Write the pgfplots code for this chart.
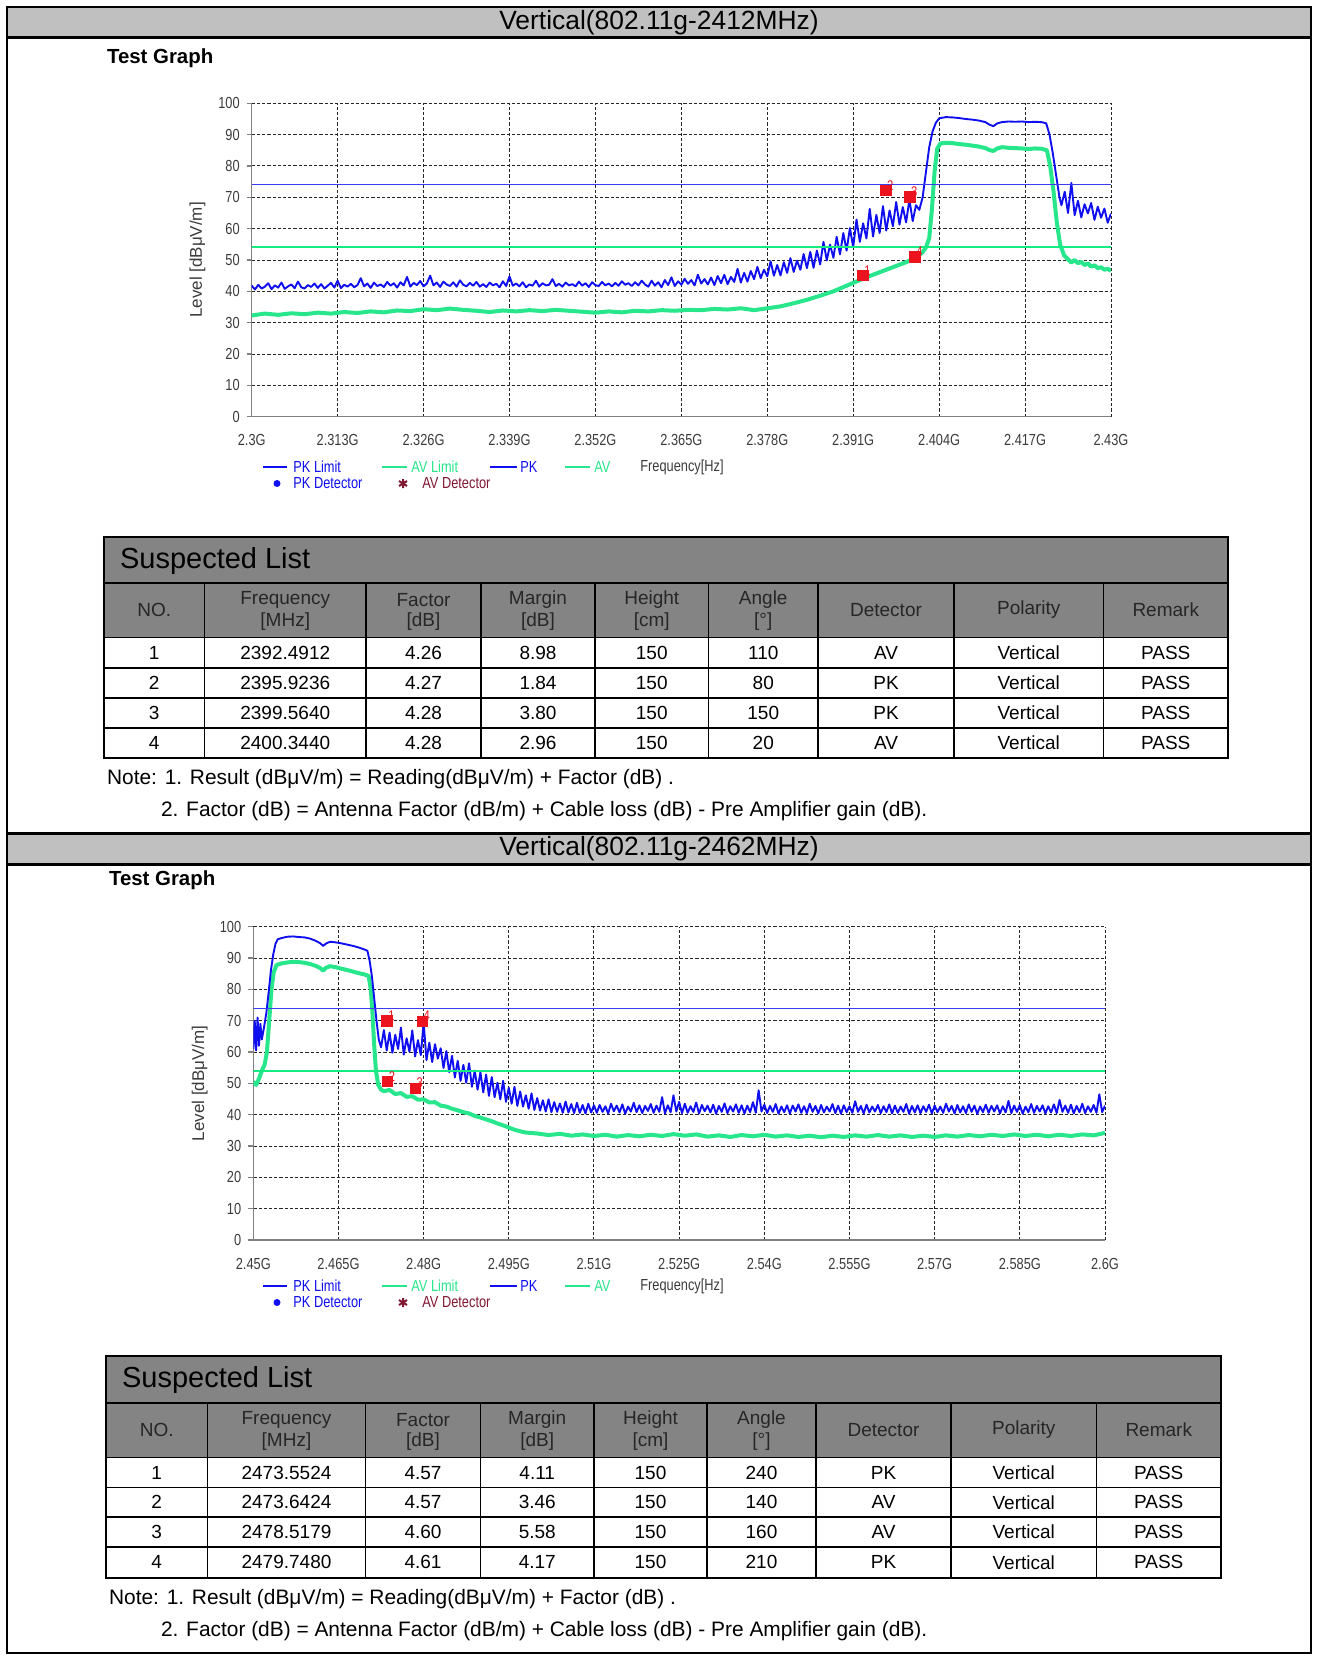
\documentclass[border=0pt]{standalone}
\usepackage{fontspec}
\setmainfont{Liberation Sans}
\newfontfamily\chartfont[FakeStretch=0.8]{Liberation Sans}
\usepackage{pgfplots}
\pgfplotsset{compat=1.18}

\definecolor{pkblue}{RGB}{15,15,240}
\definecolor{avgreen}{RGB}{40,230,140}
\definecolor{limblue}{RGB}{60,60,240}
\definecolor{limgreen}{RGB}{20,235,130}
\definecolor{mkred}{RGB}{235,20,30}
\definecolor{detred}{RGB}{130,25,50}
\definecolor{bandgray}{RGB}{192,192,192}
\definecolor{tblgray}{RGB}{132,132,132}
\definecolor{txtgray}{RGB}{60,60,60}

\pgfplotsset{
  emc/.style={
    scale only axis, anchor=south west,
    ymin=0, ymax=100, ytick={0,10,20,30,40,50,60,70,80,90,100},
    axis x line=bottom, axis y line=left,
    axis line style={-, black!50, line width=0.6pt},
    grid=major,
    major grid style={black!85, line width=0.5pt, dash pattern=on 1.6pt off 1pt},
    tick align=outside,
    xtick style={draw=none},
    ytick style={black!50, line width=0.6pt},
    major tick length=2.5pt,
    ticklabel style={font=\chartfont\fontsize{8}{9}\selectfont, text=txtgray},
    xticklabel style={yshift=-3pt},
    /pgf/number format/assume math mode=true,
    ylabel={Level [dBμV/m]},
    ylabel style={font=\fontsize{8.5}{10}\selectfont, text=txtgray,
      at={(axis description cs:-0.063,0.5)}, anchor=center},
  },
  pk/.style={pkblue, line width=0.95pt, no markers, line join=round},
  av/.style={avgreen, line width=2pt, no markers, line join=round},
  pklim/.style={limblue, line width=0.6pt, no markers},
  avlim/.style={limgreen, line width=1pt, no markers},
  det/.style={only marks, mark=square*, mark size=2.6pt, mkred,
    nodes near coords, point meta=explicit symbolic,
    every node near coord/.style={font=\chartfont\fontsize{7}{7}\selectfont,
      text=mkred, anchor=south west, inner sep=0.5pt, xshift=0pt, yshift=-0.5pt}},
}

\begin{document}
\begin{tikzpicture}
\begin{scope}[x=0.5pt,y=-0.5pt]
\path[use as bounding box] (0,0) rectangle (1318,1656);
\fill[white] (0,0) rectangle (1318,1656);
% header bands
\fill[bandgray] (7,7) rectangle (1311,37.5);
\fill[bandgray] (7,833) rectangle (1311,864.5);
\draw[line width=1.5pt] (7,37.5) -- (1311,37.5);
\draw[line width=1.5pt] (7,833) -- (1311,833);
\draw[line width=1.5pt] (7,864.5) -- (1311,864.5);
\draw[line width=1pt] (7,7) rectangle (1311,1653);
\node at (659,22.5) {\fontsize{13.2}{15}\selectfont Vertical(802.11g-2412MHz)};
\node at (659,849) {\fontsize{13.2}{15}\selectfont Vertical(802.11g-2462MHz)};
\node[anchor=west] at (100,58) {\fontsize{10.2}{12}\selectfont\bfseries Test Graph};
\node[anchor=west] at (102,880) {\fontsize{10.2}{12}\selectfont\bfseries Test Graph};
\end{scope}

% ---------- chart 1 : 2.3G - 2.43G ----------
\begin{axis}[emc, at={(125.85pt,-208.35pt)}, width=429.65pt, height=156.7pt,
  xmin=2300, xmax=2430,
  xtick={2300,2313,2326,2339,2352,2365,2378,2391,2404,2417,2430},
  xticklabels={2.3G,2.313G,2.326G,2.339G,2.352G,2.365G,2.378G,2.391G,2.404G,2.417G,2.43G}]
\addplot[av] coordinates {
(2300,32.3)(2302,32.9)(2304,32.5)(2306,33.0)(2308,32.7)(2310,33.2)(2312,32.9)(2314,33.4)(2316,33.1)(2318,33.6)
(2320,33.3)(2322,33.9)(2324,33.7)(2326,34.3)(2328,34.0)(2330,34.5)(2332,34.1)(2334,33.8)(2336,33.4)(2338,33.9)
(2340,33.6)(2342,34.0)(2344,33.7)(2346,34.1)(2348,33.8)(2350,33.5)(2352,33.2)(2354,33.6)(2356,33.3)(2358,33.8)
(2360,33.6)(2362,34.0)(2364,33.8)(2366,34.1)(2368,34.0)(2370,34.4)(2372,34.2)(2374,34.6)(2376,34.0)(2378,34.6)
(2380,35.2)(2382,36.2)(2384,37.3)(2386,38.6)(2388,40.0)(2390,41.8)(2392,43.6)(2394,45.3)(2396,46.9)(2398,48.5)
(2399,49.3)(2400,50.3)(2401,51.6)(2401.5,52.5)(2402,54.0)(2402.5,57.0)(2402.9,66.0)(2403.3,78.0)(2403.7,85.5)(2404.2,87.2)
(2405,87.4)(2406,87.3)(2407,87.0)(2408,86.8)(2409,86.5)(2410,86.2)(2411,85.7)(2411.6,85.1)(2412.2,84.8)(2412.8,85.6)
(2413.5,86.0)(2414.5,85.8)(2415.5,85.7)(2416.5,85.6)(2417.5,85.4)(2418.5,85.6)(2419.5,85.5)(2420.3,85.0)(2420.8,80.0)(2421.3,72.0)
(2421.8,62.0)(2422.3,55.0)(2422.9,51.5)(2423.5,50.2)(2424,49.2)(2424.5,50.0)(2425,49.0)(2425.5,49.4)(2426,48.4)(2426.5,48.9)
(2427,47.9)(2427.5,48.3)(2428,47.4)(2428.5,47.7)(2429,46.9)(2429.5,47.2)(2430,46.5)
};
\addplot[pk] coordinates {
(2300,41.8)(2300.5,40.6)(2301,42.1)(2301.5,40.9)(2302,41.5)(2302.5,42.6)(2303,40.7)(2303.5,41.9)(2304,41.2)(2304.5,42.8)
(2305,40.8)(2305.5,41.6)(2306,42.2)(2306.5,41.0)(2307,43.1)(2307.5,41.3)(2308,40.9)(2308.5,42.0)(2309,41.4)(2309.5,42.5)
(2310,41.1)(2310.5,42.3)(2311,40.9)(2311.5,41.8)(2312,42.7)(2312.5,41.2)(2313,43.4)(2313.5,41.0)(2314,42.1)(2314.5,41.5)
(2315,42.4)(2315.5,41.3)(2316,42.0)(2316.5,44.2)(2317,41.6)(2317.5,42.5)(2318,41.1)(2318.5,42.8)(2319,41.7)(2319.5,42.2)
(2320,41.4)(2320.5,43.0)(2321,41.8)(2321.5,42.6)(2322,41.2)(2322.5,42.9)(2323,41.9)(2323.5,44.6)(2324,41.5)(2324.5,42.7)
(2325,42.0)(2325.5,43.3)(2326,41.6)(2326.5,42.5)(2327,45.0)(2327.5,41.9)(2328,42.8)(2328.5,41.4)(2329,43.1)(2329.5,42.2)
(2330,41.7)(2330.5,42.9)(2331,41.5)(2331.5,43.5)(2332,42.1)(2332.5,41.6)(2333,42.7)(2333.5,41.8)(2334,43.0)(2334.5,41.5)
(2335,42.3)(2335.5,41.4)(2336,42.8)(2336.5,41.9)(2337,42.4)(2337.5,41.3)(2338,43.2)(2338.5,41.7)(2339,44.8)(2339.5,41.8)
(2340,42.5)(2340.5,41.6)(2341,42.9)(2341.5,41.3)(2342,42.2)(2342.5,41.8)(2343,43.4)(2343.5,41.5)(2344,42.6)(2344.5,41.9)
(2345,42.1)(2345.5,43.9)(2346,41.7)(2346.5,42.4)(2347,41.5)(2347.5,42.8)(2348,41.9)(2348.5,42.3)(2349,41.6)(2349.5,43.1)
(2350,41.8)(2350.5,42.6)(2351,41.4)(2351.5,42.9)(2352,42.0)(2352.5,41.7)(2353,43.0)(2353.5,41.9)(2354,42.5)(2354.5,41.6)
(2355,42.7)(2355.5,41.8)(2356,43.2)(2356.5,42.1)(2357,42.6)(2357.5,41.7)(2358,42.9)(2358.5,41.9)(2359,43.4)(2359.5,42.2)
(2360,41.5)(2360.5,43.4)(2361,41.8)(2361.5,42.9)(2362,41.3)(2362.5,43.6)(2363,42.0)(2363.5,44.5)(2364,41.7)(2364.5,43.2)
(2365,42.1)(2365.5,44.0)(2366,42.4)(2366.5,43.6)(2367,41.9)(2367.5,45.3)(2368,42.5)(2368.5,43.9)(2369,42.2)(2369.5,44.4)
(2370,42.0)(2370.5,44.9)(2371,42.6)(2371.5,45.3)(2372,42.3)(2372.5,44.6)(2373,43.0)(2373.5,47.2)(2374,42.8)(2374.5,45.9)
(2375,43.1)(2375.5,46.5)(2376,43.9)(2376.5,47.8)(2377,44.2)(2377.5,46.9)(2378,44.8)(2378.5,49.6)(2379,45.0)(2379.5,48.4)
(2380,45.1)(2380.5,49.3)(2381,45.9)(2381.5,50.6)(2382,46.2)(2382.5,49.8)(2383,46.9)(2383.5,51.9)(2384,47.4)(2384.5,52.6)
(2385,47.5)(2385.5,53.0)(2386,48.6)(2386.5,55.8)(2387,49.9)(2387.5,54.9)(2388,50.7)(2388.5,57.4)(2389,51.8)(2389.5,58.6)
(2390,53.0)(2390.5,60.2)(2391,54.1)(2391.5,62.9)(2392,55.8)(2392.5,61.7)(2393,56.9)(2393.5,66.3)(2394,57.5)(2394.5,64.4)
(2395,58.6)(2395.5,67.2)(2396,59.4)(2396.5,65.8)(2397,60.8)(2397.5,68.5)(2398,61.3)(2398.5,66.9)(2399,62.0)(2399.5,69.3)
(2400,62.4)(2400.5,67.5)(2401,66.0)(2401.5,70.0)(2402,78.0)(2402.5,86.0)(2403,91.0)(2403.5,93.8)(2404,95.2)(2405,95.6)
(2406,95.5)(2407,95.3)(2408,95.0)(2409,94.8)(2410,94.5)(2411,94.0)(2411.6,93.2)(2412.2,92.7)(2412.8,93.6)(2413.5,94.0)
(2414.5,94.2)(2415.5,94.1)(2416.5,94.2)(2417.5,94.0)(2418.5,94.1)(2419.5,94.0)(2420.2,93.6)(2420.7,90.0)(2421.2,84.0)(2421.7,77.0)
(2422.2,70.0)(2422.5,67.5)(2423,71.8)(2423.5,65.0)(2424,74.6)(2424.5,64.3)(2425,68.9)(2425.5,63.6)(2426,67.8)(2426.5,64.9)
(2427,68.2)(2427.5,62.8)(2428,67.0)(2428.5,63.5)(2429,66.4)(2429.5,61.9)(2430,64.8)
};
\addplot[avlim] coordinates {(2300,54) (2430,54)};
\addplot[pklim] coordinates {(2300,74) (2430,74)};
\addplot[det] coordinates {(2392.4912,45.02) [1] (2395.9236,72.16) [2] (2399.5640,70.20) [3] (2400.3440,51.04) [4]};
\end{axis}

% ---------- chart 2 : 2.45G - 2.6G ----------
\begin{axis}[emc, at={(126.65pt,-620pt)}, width=425.85pt, height=156.65pt,
  xmin=2450, xmax=2600,
  xtick={2450,2465,2480,2495,2510,2525,2540,2555,2570,2585,2600},
  xticklabels={2.45G,2.465G,2.48G,2.495G,2.51G,2.525G,2.54G,2.555G,2.57G,2.585G,2.6G}]
\addplot[av] coordinates {
(2450,50.5)(2450.5,49.5)(2451,51.5)(2451.5,54.0)(2452,56.0)(2452.4,60.0)(2452.8,70.0)(2453.2,80.0)(2453.6,85.5)(2454.1,87.8)
(2455,88.3)(2456,88.6)(2457,88.8)(2458,88.7)(2459,88.5)(2460,88.1)(2461,87.5)(2461.8,86.8)(2462.3,86.0)(2462.8,86.9)
(2463.5,87.4)(2464.5,87.1)(2465.5,86.6)(2466.5,86.2)(2467.5,85.7)(2468.5,85.2)(2469.5,84.8)(2470.3,84.3)(2470.7,80.0)(2471.0,72.0)
(2471.3,62.0)(2471.6,54.0)(2472.0,49.5)(2472.5,48.0)(2473,47.5)(2474,47.9)(2475,46.6)(2476,46.9)(2477,45.7)(2478,45.9)
(2479,44.8)(2480,44.9)(2481,43.9)(2482,44.0)(2483,42.9)(2484,42.6)(2485,41.9)(2486,41.4)(2487,40.8)(2488,40.4)
(2489,39.6)(2490,39.1)(2491,38.5)(2492,37.9)(2493,37.2)(2494,36.6)(2495,35.9)(2496,35.2)(2497,34.7)(2498,34.3)
(2500,34.0)(2502,33.5)(2504,33.9)(2506,33.3)(2508,33.7)(2510,33.2)(2512,33.6)(2514,33.0)(2516,33.5)(2518,33.1)
(2520,33.6)(2522,33.2)(2524,33.8)(2526,33.3)(2528,33.7)(2530,33.0)(2532,33.4)(2534,32.9)(2536,33.5)(2538,33.1)
(2540,33.6)(2542,33.0)(2544,33.4)(2546,32.9)(2548,33.3)(2550,32.8)(2552,33.3)(2554,32.9)(2556,33.4)(2558,33.0)
(2560,33.5)(2562,33.0)(2564,33.4)(2566,32.9)(2568,33.3)(2570,32.9)(2572,33.4)(2574,33.0)(2576,33.5)(2578,33.1)
(2580,33.6)(2582,33.2)(2584,33.7)(2586,33.2)(2588,33.6)(2590,33.1)(2592,33.6)(2594,33.2)(2596,33.7)(2598,33.4)(2600,34.2)
};
\addplot[pk] coordinates {
(2450,61.0)(2450.25,70.0)(2450.5,60.5)(2450.75,71.0)(2451,62.0)(2451.25,69.0)(2451.5,64.0)(2451.9,68.0)(2452.3,72.5)(2452.7,79.0)
(2453.1,86.0)(2453.5,91.0)(2453.9,94.5)(2454.3,96.0)(2455,96.4)(2456,96.8)(2457,96.9)(2458,96.7)(2459,96.6)(2460,96.2)
(2461,95.5)(2461.8,94.7)(2462.3,93.9)(2462.8,94.6)(2463.5,95.2)(2464.5,95.0)(2465.5,94.7)(2466.5,94.3)(2467.5,93.9)(2468.5,93.4)
(2469.5,92.8)(2470.1,92.3)(2470.5,89.0)(2470.9,84.0)(2471.3,77.0)(2471.7,70.0)(2472.1,64.0)(2472.5,61.5)
(2473,67.0)(2473.5,60.5)(2474,66.2)(2474.5,59.8)(2475,65.5)(2475.5,61.0)(2476,67.8)(2476.5,59.2)(2477,64.4)(2477.5,60.1)
(2478,66.9)(2478.5,58.6)(2479,63.8)(2479.5,59.0)(2480,69.5)(2480.5,57.4)(2481,63.0)(2481.5,56.8)(2482,62.5)(2482.5,57.9)
(2483,61.2)(2483.5,54.9)(2484,60.3)(2484.5,53.6)(2485,58.8)(2485.5,51.9)(2486,57.2)(2486.5,50.8)(2487,55.9)(2487.5,50.2)
(2488,56.4)(2488.5,48.9)(2489,54.1)(2489.5,48.0)(2490,53.5)(2490.5,47.1)(2491,52.8)(2491.5,46.0)(2492,52.0)(2492.5,45.6)
(2493,50.2)(2493.5,44.9)(2494,50.8)(2494.5,44.1)(2495,48.6)(2495.5,43.5)(2496,48.9)(2496.5,42.8)(2497,47.4)(2497.5,42.6)
(2498,46.2)(2498.5,41.9)(2499,46.8)(2499.5,41.5)(2500,45.3)(2500.5,41.3)(2501,44.6)(2501.5,41.0)(2502,44.9)(2502.5,40.8)
(2503,44.0)(2503.5,40.9)(2504,43.6)(2504.5,40.6)(2505,44.2)(2505.5,40.7)(2506,43.4)(2506.5,40.5)(2507,43.8)(2507.5,40.6)
(2508,43.1)(2508.5,40.4)(2509,43.5)(2509.5,40.7)(2510,43.0)(2510.5,40.6)(2511,43.1)(2511.5,40.9)(2512,42.7)(2512.5,40.4)
(2513,43.5)(2513.5,41.1)(2514,42.9)(2514.5,40.7)(2515,43.3)(2515.5,40.3)(2516,42.6)(2516.5,41.0)(2517,43.8)(2517.5,40.8)
(2518,43.0)(2518.5,40.5)(2519,42.8)(2519.5,41.2)(2520,43.4)(2520.5,40.6)(2521,42.9)(2521.5,40.9)(2522,45.6)(2522.5,40.4)
(2523,43.0)(2523.5,40.8)(2524,46.2)(2524.5,41.0)(2525,44.1)(2525.5,40.5)(2526,43.5)(2526.5,40.6)(2527,42.7)(2527.5,40.9)
(2528,43.9)(2528.5,40.4)(2529,43.1)(2529.5,41.1)(2530,42.9)(2530.5,40.7)(2531,43.2)(2531.5,40.3)(2532,42.8)(2532.5,40.9)
(2533,43.6)(2533.5,40.5)(2534,42.7)(2534.5,41.0)(2535,43.3)(2535.5,40.6)(2536,43.0)(2536.5,40.4)(2537,42.9)(2537.5,40.8)
(2538,44.0)(2538.5,40.6)(2539,47.8)(2539.5,41.0)(2540,43.2)(2540.5,40.5)(2541,42.8)(2541.5,40.9)(2542,43.4)(2542.5,40.3)
(2543,42.6)(2543.5,40.8)(2544,43.0)(2544.5,40.4)(2545,42.9)(2545.5,41.0)(2546,43.3)(2546.5,40.6)(2547,42.7)(2547.5,40.5)
(2548,43.5)(2548.5,40.9)(2549,42.8)(2549.5,40.4)(2550,43.1)(2550.5,40.7)(2551,42.6)(2551.5,41.0)(2552,43.4)(2552.5,40.5)
(2553,42.9)(2553.5,40.3)(2554,43.0)(2554.5,40.8)(2555,42.7)(2555.5,40.6)(2556,44.3)(2556.5,40.9)(2557,42.8)(2557.5,40.4)
(2558,43.2)(2558.5,40.7)(2559,42.6)(2559.5,41.0)(2560,43.1)(2560.5,40.5)(2561,42.7)(2561.5,40.8)(2562,43.3)(2562.5,40.4)
(2563,42.9)(2563.5,40.6)(2564,42.6)(2564.5,40.9)(2565,43.4)(2565.5,40.3)(2566,42.8)(2566.5,40.7)(2567,43.0)(2567.5,40.5)
(2568,42.7)(2568.5,40.9)(2569,43.2)(2569.5,40.4)(2570,42.9)(2570.5,40.8)(2571,42.6)(2571.5,40.6)(2572,43.5)(2572.5,41.0)
(2573,42.8)(2573.5,40.4)(2574,43.1)(2574.5,40.7)(2575,42.7)(2575.5,40.5)(2576,43.3)(2576.5,40.9)(2577,42.9)(2577.5,40.3)
(2578,42.6)(2578.5,40.8)(2579,43.2)(2579.5,40.6)(2580,42.8)(2580.5,41.0)(2581,43.0)(2581.5,40.4)(2582,42.7)(2582.5,40.7)
(2583,44.4)(2583.5,40.5)(2584,42.9)(2584.5,40.9)(2585,43.1)(2585.5,40.3)(2586,42.6)(2586.5,40.8)(2587,43.4)(2587.5,40.6)
(2588,42.8)(2588.5,41.0)(2589,43.0)(2589.5,40.4)(2590,42.7)(2590.5,40.7)(2591,43.3)(2591.5,40.5)(2592,44.7)(2592.5,40.9)
(2593,42.9)(2593.5,40.6)(2594,43.2)(2594.5,40.4)(2595,42.8)(2595.5,40.8)(2596,43.5)(2596.5,40.5)(2597,42.7)(2597.5,40.9)
(2598,43.1)(2598.5,40.6)(2599,46.5)(2599.5,40.8)(2600,42.9)
};
\addplot[avlim] coordinates {(2450,54) (2600,54)};
\addplot[pklim] coordinates {(2450,74) (2600,74)};
\addplot[det] coordinates {(2473.5524,69.89) [1] (2473.6424,50.54) [2] (2478.5179,48.42) [3] (2479.7480,69.83) [4]};
\end{axis}

\begin{scope}[x=0.5pt,y=-0.5pt]
% ---------- legends ----------
\foreach \ly in {467,1286} {
  \draw[pkblue, line width=1.2pt] (263,\ly) -- (287,\ly);
  \node[anchor=west, text=pkblue, inner sep=0pt] at (293,\ly) {\chartfont\fontsize{8}{9}\selectfont PK Limit};
  \draw[avgreen, line width=1.2pt] (382,\ly) -- (407,\ly);
  \node[anchor=west, text=avgreen, inner sep=0pt] at (411,\ly) {\chartfont\fontsize{8}{9}\selectfont AV Limit};
  \draw[pkblue, line width=1.2pt] (490,\ly) -- (517,\ly);
  \node[anchor=west, text=pkblue, inner sep=0pt] at (520,\ly) {\chartfont\fontsize{8}{9}\selectfont PK};
  \draw[avgreen, line width=1.2pt] (565,\ly) -- (590,\ly);
  \node[anchor=west, text=avgreen, inner sep=0pt] at (594,\ly) {\chartfont\fontsize{8}{9}\selectfont AV};
  \node[anchor=west, text=txtgray, inner sep=0pt] at (640,\ly) {\chartfont\fontsize{8}{9}\selectfont Frequency[Hz]};
  \fill[pkblue] (277,\ly+16.5) circle (3.5);
  \node[anchor=west, text=pkblue, inner sep=0pt] at (293,\ly+16.5) {\chartfont\fontsize{8}{9}\selectfont PK Detector};
  \draw[detred, line width=1pt] (403,\ly+12) -- (403,\ly+21) (399,\ly+14) -- (407,\ly+19) (399,\ly+19) -- (407,\ly+14);
  \node[anchor=west, text=detred, inner sep=0pt] at (422,\ly+16.5) {\chartfont\fontsize{8}{9}\selectfont AV Detector};
}

% ---------- table 1 ----------
\fill[tblgray] (104,537) rectangle (1228,637.5);
\foreach \yy in {583,637.5,668,698,728} {\draw[line width=0.75pt] (104,\yy) -- (1228,\yy);}
\foreach \xx in {204.5,366,481,595,708.5,818,954,1103.5} {\draw[line width=0.75pt] (\xx,583) -- (\xx,758);}
\draw[line width=1pt] (104,537) rectangle (1228,758);
\node[anchor=west] at (113,561) {\fontsize{14.5}{16}\selectfont Suspected List};
\begin{scope}[font=\fontsize{9.5}{11}\selectfont]
\node[text=black!85] at (154.25,610) {NO.};
\node[text=black!85] at (285.25,600) {Frequency}; \node[text=black!85] at (285.25,621.7) {[MHz]};
\node[text=black!85] at (423.5,600) {Factor}; \node[text=black!85] at (423.5,621.7) {[dB]};
\node[text=black!85] at (538,600) {Margin}; \node[text=black!85] at (538,621.7) {[dB]};
\node[text=black!85] at (651.75,600) {Height}; \node[text=black!85] at (651.75,621.7) {[cm]};
\node[text=black!85] at (763.25,600) {Angle}; \node[text=black!85] at (763.25,621.7) {[°]};
\node[text=black!85] at (886,610) {Detector};
\node[text=black!85] at (1028.75,610) {Polarity};
\node[text=black!85] at (1165.75,610) {Remark};
\foreach \yy/\va/\vb/\vc/\vd/\ve/\vf in {653/1/2392.4912/4.26/8.98/110/AV, 683/2/2395.9236/4.27/1.84/80/PK,
    713/3/2399.5640/4.28/3.80/150/PK, 743/4/2400.3440/4.28/2.96/20/AV} {
  \node at (154.25,\yy) {\va}; \node at (285.25,\yy) {\vb}; \node at (423.5,\yy) {\vc};
  \node at (538,\yy) {\vd}; \node at (651.75,\yy) {150}; \node at (763.25,\yy) {\ve};
  \node at (886,\yy) {\vf}; \node at (1028.75,\yy) {Vertical}; \node at (1165.75,\yy) {PASS};
}
\end{scope}
\node[anchor=west] at (100,779) {\fontsize{10.45}{12}\selectfont Note: 1. Result (dBμV/m) = Reading(dBμV/m) + Factor (dB) .};
\node[anchor=west] at (154,811) {\fontsize{10.45}{12}\selectfont 2. Factor (dB) = Antenna Factor (dB/m) + Cable loss (dB) - Pre Amplifier gain (dB).};

% ---------- table 2 ----------
\fill[tblgray] (106,1355.6) rectangle (1221,1457.7);
\foreach \yy in {1403,1457.7,1487.5,1517,1547} {\draw[line width=0.75pt] (106,\yy) -- (1221,\yy);}
\foreach \xx in {207.5,365.5,480.5,594,707,816,951,1096.5} {\draw[line width=0.75pt] (\xx,1403) -- (\xx,1577.5);}
\draw[line width=1pt] (106,1355.6) rectangle (1221,1577.5);
\node[anchor=west] at (115,1380) {\fontsize{14.5}{16}\selectfont Suspected List};
\begin{scope}[font=\fontsize{9.5}{11}\selectfont]
\node[text=black!85] at (156.75,1430) {NO.};
\node[text=black!85] at (286.5,1420) {Frequency}; \node[text=black!85] at (286.5,1441.7) {[MHz]};
\node[text=black!85] at (423,1420) {Factor}; \node[text=black!85] at (423,1441.7) {[dB]};
\node[text=black!85] at (537.25,1420) {Margin}; \node[text=black!85] at (537.25,1441.7) {[dB]};
\node[text=black!85] at (650.5,1420) {Height}; \node[text=black!85] at (650.5,1441.7) {[cm]};
\node[text=black!85] at (761.5,1420) {Angle}; \node[text=black!85] at (761.5,1441.7) {[°]};
\node[text=black!85] at (883.5,1430) {Detector};
\node[text=black!85] at (1023.75,1430) {Polarity};
\node[text=black!85] at (1158.75,1430) {Remark};
\foreach \yy/\va/\vb/\vc/\vd/\ve/\vf in {1472.6/1/2473.5524/4.57/4.11/240/PK, 1502.2/2/2473.6424/4.57/3.46/140/AV,
    1532/3/2478.5179/4.60/5.58/160/AV, 1562.2/4/2479.7480/4.61/4.17/210/PK} {
  \node at (156.75,\yy) {\va}; \node at (286.5,\yy) {\vb}; \node at (423,\yy) {\vc};
  \node at (537.25,\yy) {\vd}; \node at (650.5,\yy) {150}; \node at (761.5,\yy) {\ve};
  \node at (883.5,\yy) {\vf}; \node at (1023.75,\yy) {Vertical}; \node at (1158.75,\yy) {PASS};
}
\end{scope}
\node[anchor=west] at (102,1599) {\fontsize{10.45}{12}\selectfont Note: 1. Result (dBμV/m) = Reading(dBμV/m) + Factor (dB) .};
\node[anchor=west] at (154,1631) {\fontsize{10.45}{12}\selectfont 2. Factor (dB) = Antenna Factor (dB/m) + Cable loss (dB) - Pre Amplifier gain (dB).};
\end{scope}
\end{tikzpicture}
\end{document}
